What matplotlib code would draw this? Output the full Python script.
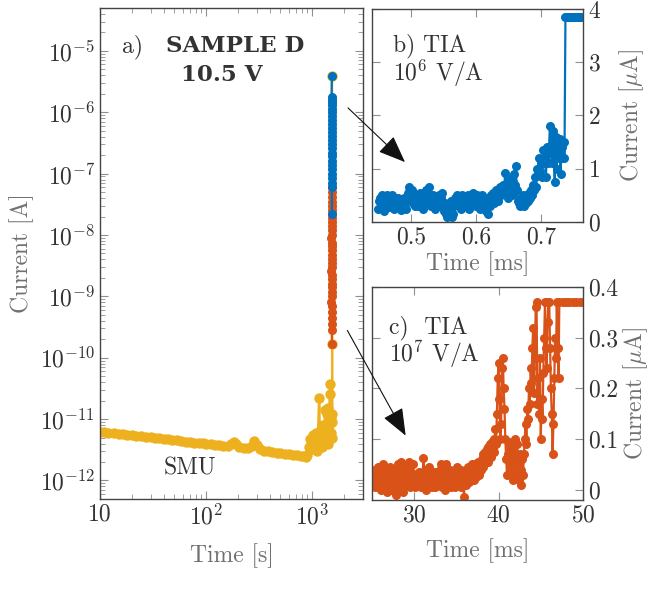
import numpy as np
import matplotlib.pyplot as plt
from matplotlib.ticker import FixedLocator, FuncFormatter, LogLocator, NullFormatter

plt.rcParams['font.family'] = 'cmr10'
plt.rcParams['mathtext.fontset'] = 'cm'
plt.rcParams['axes.formatter.use_mathtext'] = True
plt.rcParams['font.size'] = 17

YEL = "#EDB120"
BLU = "#0072BD"
ORA = "#D95319"
LAB = "#707070"
TXT = "#333333"

# ---- panel a: SMU log-log trace ----
t_smu = [10, 11, 12, 13.5, 15, 16.5, 18, 20, 22, 24.5, 27, 30, 33, 36, 40, 44, 48, 53,
         58, 64, 70, 77, 85, 93, 100, 110, 120, 132, 145, 160, 172, 182, 192, 205, 225,
         250, 270, 285, 300, 320, 350, 380, 420, 460, 500, 550, 600, 660, 720, 780, 840,
         880, 900, 930, 960, 1000, 1020, 1050, 1080, 1100, 1130, 1160, 1180, 1200, 1230,
         1260, 1290, 1320, 1350, 1380, 1400, 1420, 1440, 1460, 1480, 1500, 1510, 1520,
         1530, 1540, 1540, 1530]
i_smu = [6.2e-12, 6.1e-12, 6.0e-12, 5.9e-12, 5.8e-12, 5.7e-12, 5.6e-12, 5.5e-12, 5.4e-12,
         5.3e-12, 5.2e-12, 5.1e-12, 5.0e-12, 4.9e-12, 4.8e-12, 4.7e-12, 4.6e-12, 4.5e-12,
         4.4e-12, 4.3e-12, 4.25e-12, 4.15e-12, 4.1e-12, 4.05e-12, 4.0e-12, 3.9e-12,
         3.8e-12, 3.75e-12, 3.7e-12, 3.7e-12, 3.9e-12, 4.3e-12, 3.9e-12, 3.5e-12, 3.4e-12,
         3.4e-12, 3.7e-12, 4.4e-12, 3.8e-12, 3.2e-12, 3.05e-12, 3.0e-12, 2.9e-12, 2.85e-12,
         2.8e-12, 2.75e-12, 2.7e-12, 2.65e-12, 2.6e-12, 2.55e-12, 2.5e-12, 2.45e-12,
         2.6e-12, 3.5e-12, 4.8e-12, 3.2e-12, 5.5e-12, 4.0e-12, 6.0e-12, 3.0e-12, 5.0e-12,
         2.2e-11, 4.0e-12, 7.0e-12, 3.5e-12, 8.0e-12, 5.0e-12, 1.4e-11, 6.0e-12, 1.2e-11,
         4.0e-12, 1.5e-11, 8.0e-12, 2.6e-11, 3.8e-11, 1.1e-11, 6.0e-12, 9.0e-12, 1.2e-11,
         5.0e-12, 1.7e-10, 3.9e-6]

t_a_ora = [1530, 1525, 1535, 1520, 1530, 1540, 1515, 1530, 1545, 1520, 1535, 1525, 1540,
           1515, 1530, 1545, 1520, 1535, 1525, 1540, 1530, 1515, 1545, 1525, 1535, 1520,
           1540, 1530, 1525, 1535, 1520, 1540, 1530, 1525]
i_a_ora = [1.7e-10, 2.8e-10, 3.5e-10, 4.5e-10, 5.5e-10, 7.0e-10, 8.0e-10, 1.0e-9, 1.2e-9,
           1.4e-9, 1.6e-9, 1.9e-9, 2.2e-9, 2.6e-9, 3.0e-9, 3.5e-9, 4.1e-9, 4.8e-9, 5.6e-9,
           6.5e-9, 7.5e-9, 8.8e-9, 1.0e-8, 1.2e-8, 1.4e-8, 1.6e-8, 1.9e-8, 2.2e-8, 2.6e-8,
           3.0e-8, 3.5e-8, 4.2e-8, 5.0e-8, 6.0e-8]

t_a_blu = [1530, 1525, 1540, 1520, 1535, 1545, 1525, 1530, 1540, 1520, 1535, 1545, 1525,
           1530, 1540, 1520, 1535, 1545, 1525, 1530, 1540, 1525, 1535, 1530, 1520, 1530]
i_a_blu = [2.2e-8, 6.0e-8, 7.0e-8, 8.5e-8, 1.0e-7, 1.2e-7, 1.4e-7, 1.6e-7, 1.9e-7, 2.2e-7,
           2.6e-7, 3.0e-7, 3.5e-7, 4.1e-7, 4.8e-7, 5.6e-7, 6.5e-7, 7.5e-7, 8.8e-7, 1.0e-6,
           1.15e-6, 1.3e-6, 1.45e-6, 1.6e-6, 1.8e-6, 3.9e-6]

# ---- panel b: TIA 1e6 V/A, sampled trace (1.5 us steps) ----
b_t0, b_dt = 0.450, 0.0015
i_b = [0.25, 0.4, 0.45, 0.3, 0.5, 0.35, 0.2, 0.42, 0.3, 0.5,
       0.38, 0.28, 0.45, 0.35, 0.5, 0.4, 0.25, 0.45, 0.3, 0.42,
       0.45, 0.3, 0.35, 0.22, 0.4, 0.3, 0.45, 0.35, 0.25, 0.4,
       0.55, 0.65, 0.5, 0.45, 0.6, 0.35, 0.5, 0.4, 0.3, 0.45,
       0.5, 0.3, 0.42, 0.55, 0.35, 0.45, 0.25, 0.5, 0.4, 0.6,
       0.45, 0.35, 0.65, 0.5, 0.3, 0.4, 0.5, 0.35, 0.25, 0.45,
       0.4, 0.3, 0.5, 0.35, 0.45, 0.55, 0.3, 0.2, 0.35, 0.15,
       0.1, 0.25, 0.3, 0.2, 0.4, 0.35, 0.1, 0.15, 0.3, 0.45,
       0.35, 0.5, 0.4, 0.3, 0.45, 0.25, 0.5, 0.35, 0.4, 0.3,
       0.45, 0.35, 0.5, 0.25, 0.4, 0.3, 0.45, 0.55, 0.35, 0.4,
       0.3, 0.5, 0.35, 0.45, 0.25, 0.4, 0.5, 0.3, 0.45, 0.35,
       0.2, 0.4, 0.15, 0.35, 0.45, 0.3, 0.5, 0.4, 0.55, 0.35,
       0.45, 0.6, 0.5, 0.4, 0.55, 0.65, 0.5, 0.6, 0.7, 0.55,
       0.92, 0.7, 0.55, 0.45, 0.7, 0.8, 0.6, 0.5, 0.75, 0.9,
       0.7, 1.05, 0.6, 0.4, 0.35, 0.3, 0.45, 0.35, 0.5, 0.3,
       0.4, 0.45, 0.35, 0.5, 0.4, 0.55, 0.45, 0.6, 0.5, 0.7,
       0.6, 0.85, 0.65, 1.0, 0.9, 1.2, 0.95, 1.1, 0.85, 1.35,
       1.1, 1.2, 0.85, 1.4, 1.1, 1.3, 1.8, 1.4, 1.1, 1.7,
       1.3, 0.75, 1.6, 1.0, 1.5, 1.2, 1.55, 0.9, 1.4, 1.2,
       1.5, 1.2]
# saturated tail
t_b_sat = [0.738, 0.741, 0.744, 0.747, 0.750, 0.753, 0.756, 0.759, 0.762]
i_b_sat = [3.85, 3.85, 3.85, 3.85, 3.85, 3.85, 3.85, 3.85, 3.85]

# ---- panel c: TIA 1e7 V/A, sampled trace (0.1 ms steps) ----
c_t0, c_dt = 25.0, 0.1
i_c = [0.03, 0.015, 0.04, 0.025, 0.005, 0.035, 0.02, 0.045, 0.01, 0.03,
       0.04, 0.0, 0.025, 0.05, 0.01, 0.045, 0.02, 0.03, -0.005, 0.04,
       0.015, 0.045, 0.025, 0.0, 0.035, 0.02, 0.04, 0.01, 0.03, -0.01,
       0.02, 0.05, 0.005, 0.03, 0.055, 0.015, 0.035, -0.005, 0.045, 0.02,
       0.03, 0.01, 0.04, 0.025, 0.055, 0.005, 0.035, 0.02, 0.05, 0.01,
       0.025, 0.005, 0.03, 0.015, 0.03, 0.01, 0.035, 0.02, 0.005, 0.03,
       0.02, 0.062, 0.015, 0.04, 0.0, 0.03, 0.02, 0.045, 0.01, 0.035,
       0.025, 0.005, 0.035, 0.015, 0.03, 0.005, 0.035, 0.02, 0.03, 0.01,
       0.04, 0.02, 0.05, 0.005, 0.045, 0.015, 0.03, 0.0, 0.05, 0.025,
       0.01, 0.035, 0.02, 0.04, 0.005, 0.03, 0.015, 0.035, 0.005, 0.03,
       0.02, 0.045, 0.01, 0.03, 0.025, 0.04, 0.005, 0.035, 0.015, -0.015,
       0.03, 0.01, 0.04, 0.02, 0.045, 0.015, 0.035, 0.025, 0.05, 0.02,
       0.04, 0.02, 0.05, 0.025, 0.045, 0.03, 0.055, 0.03, 0.05, 0.04,
       0.06, 0.045, 0.07, 0.05, 0.075, 0.06, 0.08, 0.055, 0.085, 0.07,
       0.09, 0.065, 0.095, 0.08, 0.1, 0.075, 0.12, 0.09, 0.15, 0.22,
       0.25, 0.18, 0.1, 0.13, 0.24, 0.26, 0.2, 0.16, 0.1, 0.06,
       0.03, 0.07, 0.095, 0.05, 0.085, 0.04, 0.065, 0.02, 0.075, 0.1,
       0.06, 0.03, 0.09, 0.05, 0.02, 0.07, 0.01, 0.04, 0.06, 0.03,
       0.07, 0.1, 0.13, 0.09, 0.16, 0.14, 0.2, 0.17, 0.24, 0.21,
       0.28, 0.32, 0.19, 0.26, 0.36, 0.37, 0.17, 0.22, 0.15, 0.26,
       0.1, 0.18, 0.14, 0.23, 0.3, 0.37, 0.28, 0.24, 0.33, 0.37,
       0.37, 0.28, 0.2, 0.15, 0.07, 0.13, 0.22, 0.3, 0.26, 0.37,
       0.28, 0.22]
# saturated tail after ~47 ms
t_c_sat = [47.2, 47.6, 48.0, 48.4, 48.8, 49.2, 49.6, 50.0]
i_c_sat = [0.37, 0.37, 0.37, 0.37, 0.37, 0.37, 0.37, 0.37]

t_b = np.concatenate([b_t0 + b_dt * np.arange(len(i_b)), t_b_sat])
i_b_all = np.concatenate([i_b, i_b_sat])
t_c = np.concatenate([c_t0 + c_dt * np.arange(len(i_c)), t_c_sat])
i_c_all = np.concatenate([i_c, i_c_sat])

fig = plt.figure(figsize=(6.54, 5.98), dpi=100)
ax_a = fig.add_axes([0.1529, 0.1656, 0.4021, 0.8211])
ax_b = fig.add_axes([0.5688, 0.6288, 0.3226, 0.3562])
ax_c = fig.add_axes([0.5688, 0.1639, 0.3226, 0.3562])

mk = dict(marker="o", ms=6.5, lw=1.6, mew=0)
ax_a.plot(t_smu, i_smu, color=YEL, marker="o", ms=7.5, lw=1.8, mew=0)
ax_a.plot(t_a_ora, i_a_ora, color=ORA, **mk)
ax_a.plot(t_a_blu, i_a_blu, color=BLU, **mk)
ax_a.set_xscale("log")
ax_a.set_yscale("log")
ax_a.set_xlim(10, 3000)
ax_a.set_ylim(5e-13, 5e-5)
ax_a.xaxis.set_major_locator(FixedLocator([10, 100, 1000]))
ax_a.xaxis.set_major_formatter(FuncFormatter(
    lambda v, p: "10" if v == 10 else r"$10^{%d}$" % round(np.log10(v))))
ax_a.xaxis.set_minor_locator(LogLocator(base=10, subs=np.arange(2, 10), numticks=20))
ax_a.xaxis.set_minor_formatter(NullFormatter())
ax_a.yaxis.set_major_locator(FixedLocator([10.0 ** k for k in range(-12, -4)]))
ax_a.yaxis.set_major_formatter(FuncFormatter(
    lambda v, p: r"$10^{%d}$" % round(np.log10(v))))
ax_a.yaxis.set_minor_locator(LogLocator(base=10, subs=np.arange(2, 10), numticks=20))
ax_a.yaxis.set_minor_formatter(NullFormatter())
ax_a.set_xlabel("Time [s]", color=LAB, labelpad=10)
ax_a.set_ylabel("Current [A]", color=LAB, labelpad=4)
ax_a.text(0.085, 0.91, "a)", transform=ax_a.transAxes, color=TXT)
ax_a.text(0.515, 0.91, "SAMPLE D", transform=ax_a.transAxes, color=TXT, fontsize=16.5,
          ha="center", family="DejaVu Serif", weight="bold")
ax_a.text(0.464, 0.852, "10.5 V", transform=ax_a.transAxes, color=TXT, fontsize=16.5,
          ha="center", family="DejaVu Serif", weight="bold")
ax_a.text(0.34, 0.05, "SMU", transform=ax_a.transAxes, color=TXT, ha="center")

ax_b.plot(t_b, i_b_all, color=BLU, **mk)
ax_b.set_xlim(0.44, 0.765)
ax_b.set_ylim(0, 4)
ax_b.set_xticks([0.5, 0.6, 0.7])
ax_b.set_xticklabels(["0.5", "0.6", "0.7"])
ax_b.set_yticks([0, 1, 2, 3, 4])
ax_b.set_xlabel("Time [ms]", color=LAB, labelpad=2)
ax_b.yaxis.set_label_position("right")
ax_b.set_ylabel(r"Current [$\mu$A]", color=LAB, labelpad=12)
ax_b.text(0.1, 0.8, "b) TIA", transform=ax_b.transAxes, color=TXT)
ax_b.text(0.1, 0.66, r"10$^{6}$ V/A", transform=ax_b.transAxes, color=TXT)

ax_c.plot(t_c, i_c_all, color=ORA, **mk)
ax_c.set_xlim(25, 50)
ax_c.set_ylim(-0.02, 0.4)
ax_c.set_xticks([30, 40, 50])
ax_c.set_yticks([0, 0.1, 0.2, 0.3, 0.4])
ax_c.set_yticklabels(["0", "0.1", "0.2", "0.3", "0.4"])
ax_c.set_xlabel("Time [ms]", color=LAB, labelpad=8)
ax_c.yaxis.set_label_position("right")
ax_c.set_ylabel(r"Current [$\mu$A]", color=LAB, labelpad=2)
ax_c.text(0.08, 0.78, "c)  TIA", transform=ax_c.transAxes, color=TXT)
ax_c.text(0.08, 0.65, r"10$^{7}$ V/A", transform=ax_c.transAxes, color=TXT)

for ax in (ax_a, ax_b, ax_c):
    for s in ax.spines.values():
        s.set_color("#444444")
        s.set_linewidth(1.0)
    ax.tick_params(which="both", direction="in", top=True, right=True, left=True,
                   bottom=True, colors="#909090", labelcolor=TXT, labelsize=17)
    ax.tick_params(which="major", length=6)
    ax.tick_params(which="minor", length=3.5)
for ax in (ax_b, ax_c):
    ax.tick_params(labelleft=False, labelright=True)

W, H = 654, 598
for (x0, y0), (x1, y1) in [((346, 106), (407, 164)), ((346, 328), (407, 438))]:
    fig.add_artist(plt.Annotation("", xy=(x1 / W, 1 - y1 / H), xytext=(x0 / W, 1 - y0 / H),
                                  xycoords="figure fraction", textcoords="figure fraction",
                                  arrowprops=dict(arrowstyle="-|>,head_length=1.0,head_width=0.4",
                                                  color="#111111", lw=0.8)))

fig.savefig("out.png", dpi=100)
